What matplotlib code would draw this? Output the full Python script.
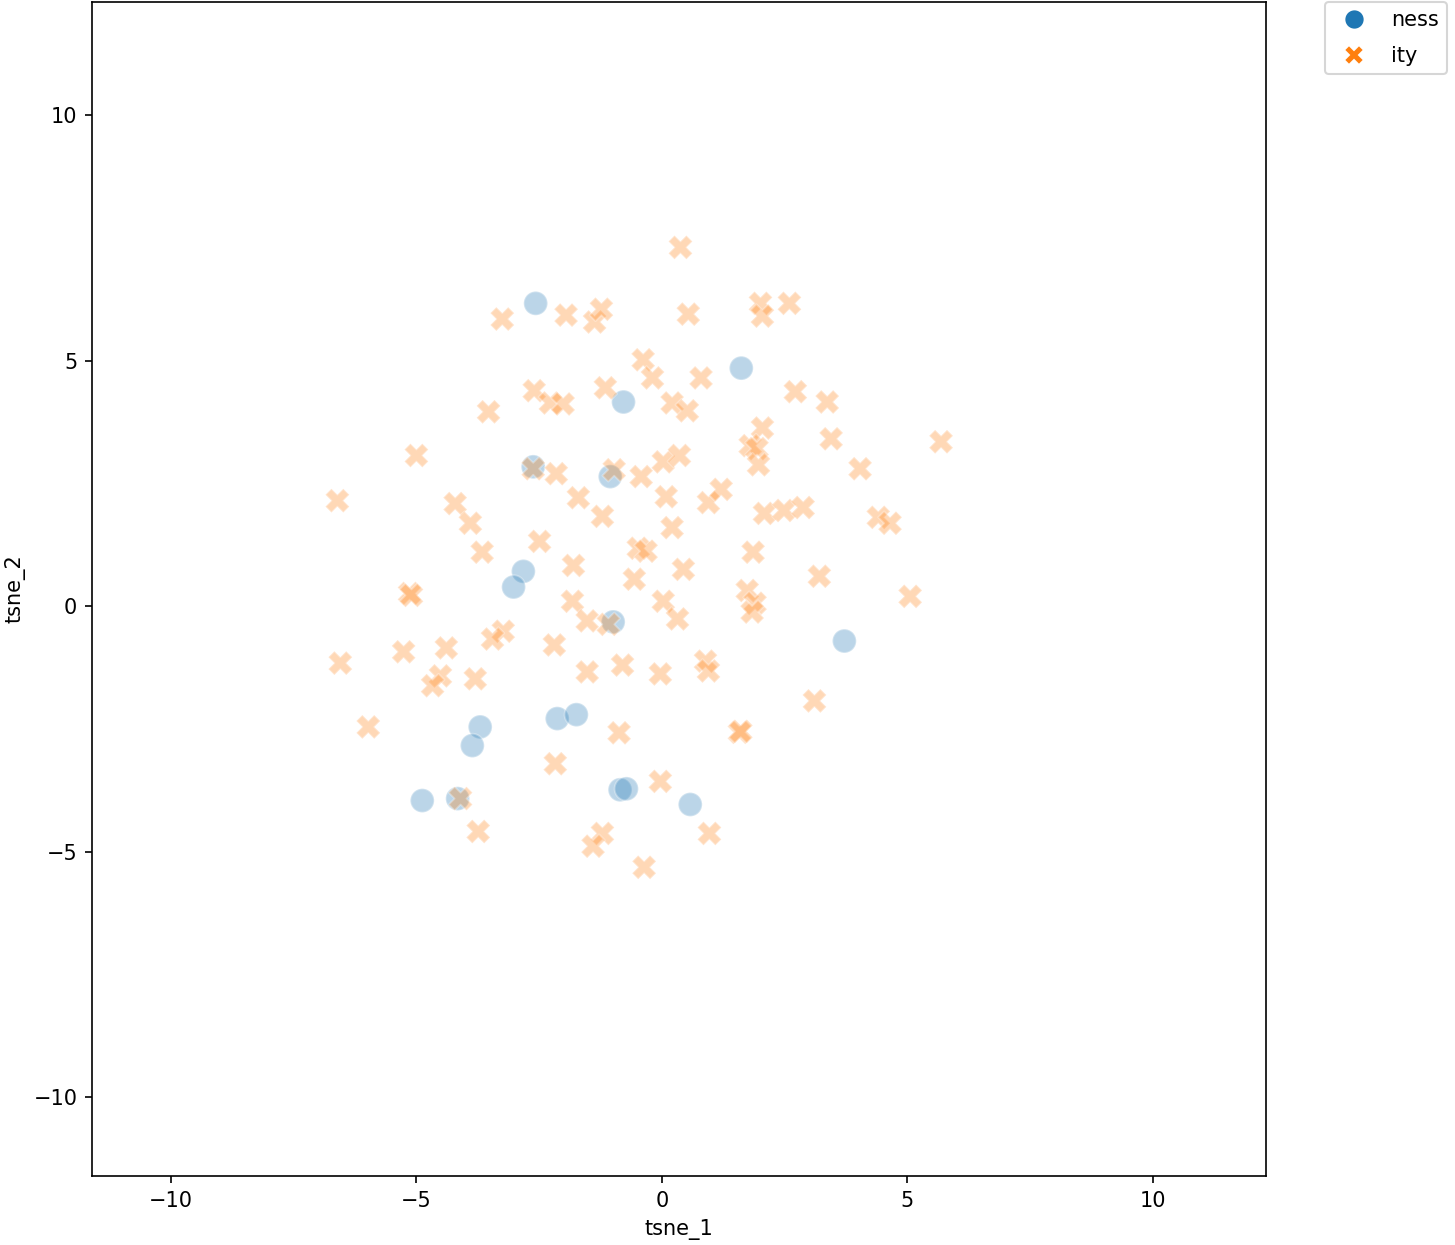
import matplotlib
matplotlib.use("Agg")
import matplotlib.pyplot as plt
import numpy as np
import pandas as pd
import seaborn as sns

# t-SNE coordinates
ness_x = [-2.57, 1.62, -0.78, -2.62, -1.05, -2.82, -3.02, -0.99, 3.72,
          -3.70, -3.86, -2.13, -1.74, -4.88, -4.16, -0.85, -0.72, 0.58]
ness_y = [6.17, 4.85, 4.16, 2.84, 2.64, 0.71, 0.39, -0.32, -0.71,
          -2.46, -2.84, -2.29, -2.21, -3.96, -3.92, -3.74, -3.72, -4.04]

ity_x = [0.38, -3.25, -1.95, -1.37, -1.23, 0.54, 2.01, 2.05, 2.60, -0.38,
         -0.19, 0.80, -2.60, -2.27, -2.01, -1.15, -3.53, 0.21, 0.52, 2.72,
         3.37, 2.05, 1.80, 1.94, 1.97, 3.45, 5.69, -5.00, -2.62, -2.15,
         -0.97, -0.42, 0.03, 0.36, 4.04, -6.61, -4.21, -3.90, -1.70, -1.21,
         0.09, 0.95, 1.21, 2.09, 2.49, 2.88, 4.41, 4.65, -2.49, -3.66,
         -0.48, -0.32, 0.21, 1.86, -1.80, 0.44, -0.56, 3.21, -5.14, -5.10,
         -1.82, 0.03, 1.74, 1.90, 1.84, 5.06, -1.52, -1.09, 0.32, -3.23,
         -3.45, -2.19, -4.39, -5.26, -6.55, -0.80, 0.89, 0.95, -1.52, -0.03,
         -4.51, -4.67, -3.80, 3.11, -5.98, -0.87, 1.58, 1.61, -2.17, -0.03,
         -4.10, -3.74, -1.21, -1.40, 0.97, -0.36]
ity_y = [7.31, 5.85, 5.93, 5.79, 6.05, 5.95, 6.17, 5.91, 6.17, 5.02,
         4.65, 4.65, 4.39, 4.14, 4.12, 4.45, 3.96, 4.14, 3.98, 4.37,
         4.16, 3.63, 3.27, 3.21, 2.88, 3.41, 3.35, 3.07, 2.80, 2.70,
         2.78, 2.64, 2.94, 3.07, 2.80, 2.15, 2.09, 1.69, 2.21, 1.83,
         2.23, 2.11, 2.38, 1.89, 1.95, 2.01, 1.81, 1.69, 1.32, 1.10,
         1.18, 1.12, 1.60, 1.10, 0.83, 0.75, 0.55, 0.61, 0.26, 0.22,
         0.10, 0.10, 0.32, 0.06, -0.12, 0.20, -0.30, -0.37, -0.26, -0.51,
         -0.67, -0.79, -0.85, -0.93, -1.16, -1.20, -1.12, -1.32, -1.34, -1.38,
         -1.42, -1.62, -1.48, -1.93, -2.46, -2.58, -2.57, -2.55, -3.21, -3.57,
         -3.92, -4.59, -4.63, -4.89, -4.63, -5.32]

df = pd.DataFrame({
    "tsne_1": ness_x + ity_x,
    "tsne_2": ness_y + ity_y,
    "suffix": ["ness"] * len(ness_x) + ["ity"] * len(ity_x),
})

fig = plt.figure(figsize=(9.7, 8.3), dpi=150)
ax = fig.add_axes([0.0632, 0.0554, 0.8069, 0.943])

sns.scatterplot(data=df, x="tsne_1", y="tsne_2", hue="suffix", style="suffix",
                s=130, alpha=0.3, ax=ax)

lo = min(df["tsne_1"].min(), df["tsne_2"].min()) - 5
hi = max(df["tsne_1"].max(), df["tsne_2"].max()) + 5
ax.set_xlim(lo, hi)
ax.set_ylim(lo, hi)

leg = ax.legend(bbox_to_anchor=(1.05, 1), loc=2, borderaxespad=0.,
                labelspacing=0.75, markerscale=0.85)
for h in leg.legend_handles:
    h.set_alpha(1)

fig.savefig("out.png", dpi=150)
